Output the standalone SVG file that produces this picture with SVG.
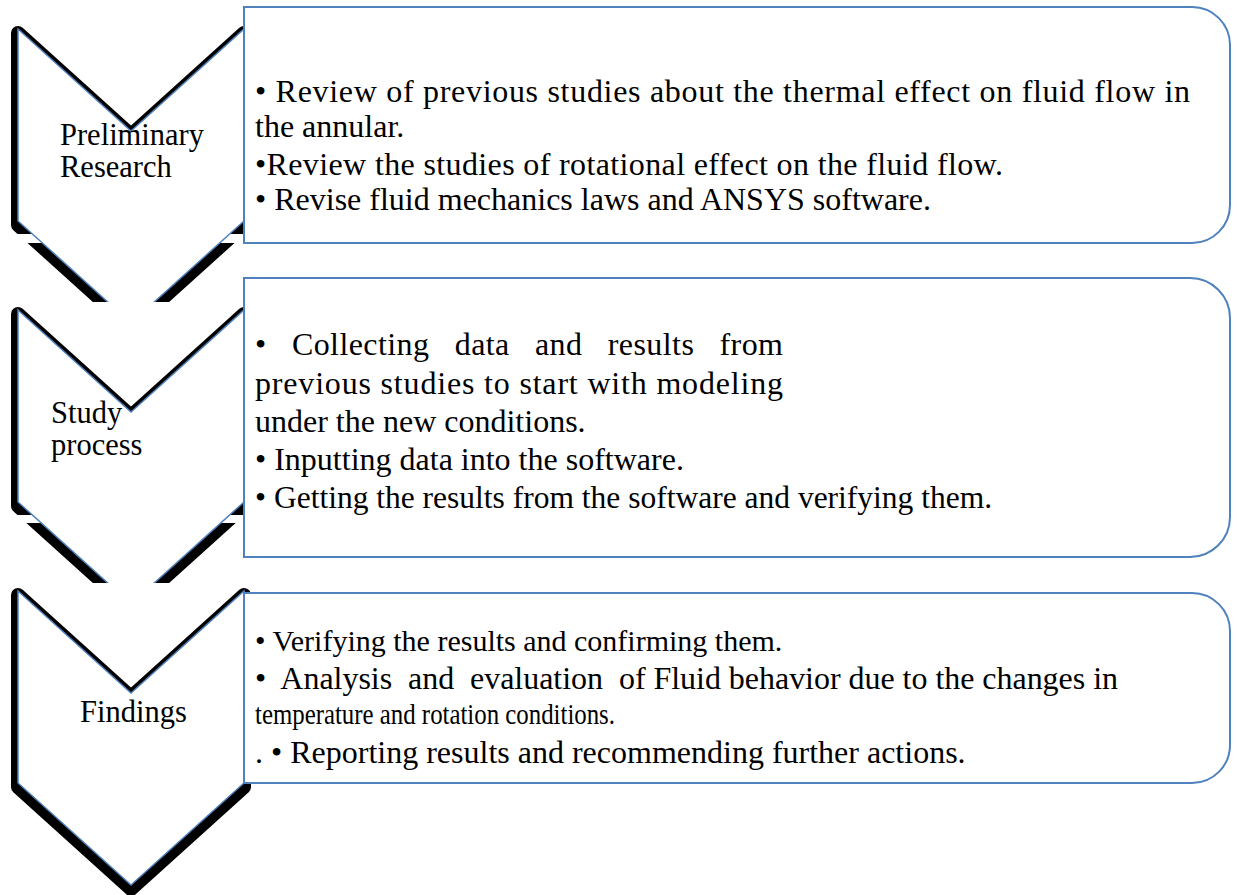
<svg xmlns="http://www.w3.org/2000/svg" xmlns:xlink="http://www.w3.org/1999/xlink" width="1237" height="895" viewBox="0 0 1237 895">
  <style>
    .shade { fill: #000; stroke: #000; stroke-width: 14; stroke-linejoin: round; }
    .body { fill: #fff; stroke: #4F81BD; stroke-width: 1.5; }
    .box { fill: #fff; stroke: #4F81BD; stroke-width: 2; }
    .lbl { font-family: 'Liberation Serif', 'Times New Roman', serif; font-size: 30.5px; fill: #000; }
    .txt { font-family: 'Liberation Serif', 'Times New Roman', serif; font-size: 32px; fill: #000; }
  </style>
  <defs>
    <!-- chevron outline at the origin: 226 wide, 294 tall, 102 deep notch -->
    <path id="chev" d="M0,0 L113,102 L226,0 L226,192 L113,294 L0,192 Z"/>
    <clipPath id="shade1"><rect x="0" y="0" width="270" height="234"/><rect x="0" y="243" width="270" height="59"/></clipPath>
    <clipPath id="body1"><rect x="0" y="0" width="270" height="302"/></clipPath>
    <clipPath id="shade2"><rect x="0" y="0" width="270" height="515"/><rect x="0" y="523" width="270" height="60"/></clipPath>
    <clipPath id="body2"><rect x="0" y="0" width="270" height="583"/></clipPath>
  </defs>

  <rect x="0" y="0" width="1237" height="895" fill="#fff"/>

  <!-- step 1 -->
  <g id="chevron-1">
    <g clip-path="url(#shade1)"><use xlink:href="#chev" class="shade" transform="translate(18,33)"/></g>
    <g clip-path="url(#body1)"><use xlink:href="#chev" class="body" transform="translate(18,29)"/></g>
    <text class="lbl" x="60" y="145">Preliminary</text>
    <text class="lbl" x="60" y="177">Research</text>
  </g>
  <g id="box-1">
    <path class="box" d="M244,7 H1192 A38,38 0 0 1 1230,45 V205 A38,38 0 0 1 1192,243 H244 Z"/>
    <text class="txt" x="255" y="102" textLength="935" lengthAdjust="spacing">• Review of previous studies about the thermal effect on fluid flow in</text>
    <text class="txt" x="255" y="137">the annular.</text>
    <text class="txt" x="255" y="175" textLength="748" lengthAdjust="spacing">•Review the studies of rotational effect on the fluid flow.</text>
    <text class="txt" x="255" y="210">• Revise fluid mechanics laws and ANSYS software.</text>
  </g>

  <!-- step 2 -->
  <g id="chevron-2">
    <g clip-path="url(#shade2)"><use xlink:href="#chev" class="shade" transform="translate(18,314)"/></g>
    <g clip-path="url(#body2)"><use xlink:href="#chev" class="body" transform="translate(18,310)"/></g>
    <text class="lbl" x="51" y="423">Study</text>
    <text class="lbl" x="51" y="455">process</text>
  </g>
  <g id="box-2">
    <path class="box" d="M244,278 H1190 A40,40 0 0 1 1230,318 V517 A40,40 0 0 1 1190,557 H244 Z"/>
    <text class="txt" x="255" y="355" textLength="528" lengthAdjust="spacing" xml:space="preserve">•   Collecting   data   and   results   from</text>
    <text class="txt" x="255" y="394" textLength="528" lengthAdjust="spacing">previous studies to start with modeling</text>
    <text class="txt" x="255" y="432">under the new conditions.</text>
    <text class="txt" x="255" y="470">• Inputting data into the software.</text>
    <text class="txt" x="255" y="508" style="font-size:31.5px">• Getting the results from the software and verifying them.</text>
  </g>

  <!-- step 3 -->
  <g id="chevron-3">
    <use xlink:href="#chev" class="shade" transform="translate(18,595)"/>
    <use xlink:href="#chev" class="body" transform="translate(18,591)"/>
    <text class="lbl" x="80" y="722">Findings</text>
  </g>
  <g id="box-3">
    <path class="box" d="M244,593 H1192 A38,38 0 0 1 1230,631 V745 A38,38 0 0 1 1192,783 H244 Z"/>
    <text class="txt" x="255" y="651" style="font-size:30px">• Verifying the results and confirming them.</text>
    <text class="txt" x="255" y="689" textLength="863" lengthAdjust="spacing" xml:space="preserve">•  Analysis  and  evaluation  of Fluid behavior due to the changes in</text>
    <text class="txt" x="255" y="724" style="font-size:30px" textLength="360" lengthAdjust="spacingAndGlyphs">temperature and rotation conditions.</text>
    <text class="txt" x="255" y="763">. • Reporting results and recommending further actions.</text>
  </g>
</svg>
